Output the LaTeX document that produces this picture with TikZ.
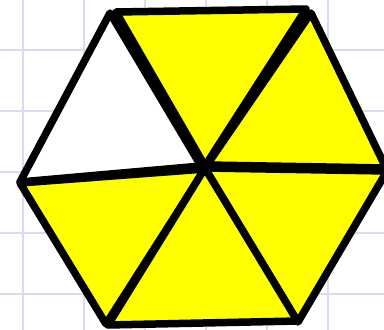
\documentclass[tikz,border=0pt]{standalone}
\definecolor{gridc}{RGB}{218,218,240}
\definecolor{yel}{RGB}{255,255,0}
\begin{document}
\begin{tikzpicture}[x=1pt,y=-1pt,
  gridline/.style={draw=gridc, line width=1.5pt},
  tri/.style={draw=black, line width=7.5pt, line join=round},
  yeltri/.style={tri, fill=yel},
  whttri/.style={tri, fill=white}]
\useasboundingbox (0,0) rectangle (384,330);
\clip (0,0) rectangle (384,330);
\fill[white] (0,0) rectangle (384,330);
\foreach \x in {23,84,145,206,267,328} \draw[gridline] (\x,0) -- (\x,330);
\foreach \y in {50,111,172,233,294} \draw[gridline] (0,\y) -- (384,\y);
% white triangle (upper left)
\coordinate (w1) at (110,13);
\coordinate (w2) at (20,182);
\coordinate (w3) at (201,166);
% top triangle
\coordinate (t1) at (116,12);
\coordinate (t2) at (306,9);
\coordinate (t3) at (205,166);
% upper right triangle
\coordinate (u1) at (311,13);
\coordinate (u2) at (386,168);
\coordinate (u3) at (207,165);
% lower right triangle
\coordinate (r1) at (205,168);
\coordinate (r2) at (387,171);
\coordinate (r3) at (298,322);
% bottom triangle
\coordinate (b1) at (205,168);
\coordinate (b2) at (298,321);
\coordinate (b3) at (108,325);
% lower left triangle
\coordinate (l1) at (20,183);
\coordinate (l2) at (205,169);
\coordinate (l3) at (106,324);
\draw[yeltri] (l1) -- (l2) -- (l3) -- cycle;
\draw[yeltri] (b1) -- (b2) -- (b3) -- cycle;
\draw[yeltri] (r1) -- (r2) -- (r3) -- cycle;
\draw[yeltri] (u1) -- (u2) -- (u3) -- cycle;
\draw[yeltri] (t1) -- (t2) -- (t3) -- cycle;
\draw[whttri] (w1) -- (w2) -- (w3) -- cycle;
\end{tikzpicture}
\end{document}
